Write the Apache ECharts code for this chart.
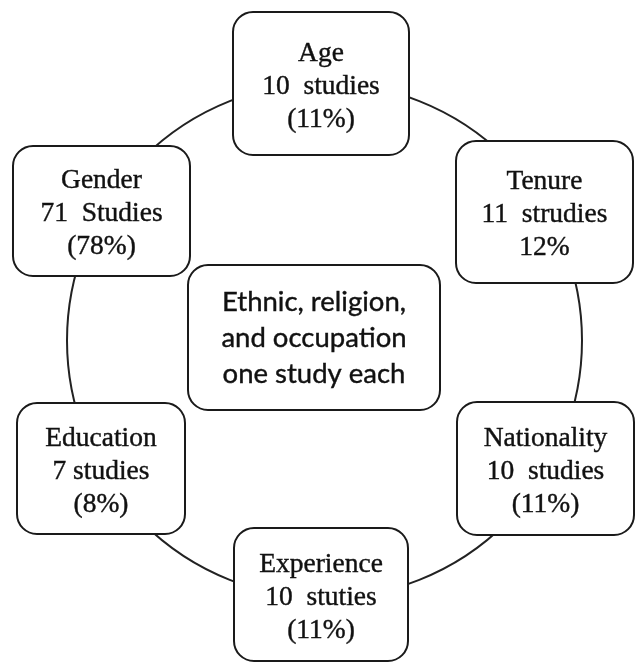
<!DOCTYPE html>
<html>
<head>
<meta charset="utf-8">
<title>Demographic factors</title>
<script src="https://cdn.jsdelivr.net/npm/echarts@6/dist/echarts.min.js"></script>
<style>
  html, body { margin: 0; padding: 0; background: #fff; }
  #chart { width: 635px; height: 662px; }
</style>
</head>
<body>
<div id="chart"></div>
<script>
  // data (typos kept as in the original)
  const factors = ['Age', 'Tenure', 'Nationality', 'Experience', 'Education', 'Gender'];
  const studyCounts = [10, 11, 10, 10, 7, 71];
  const studyWords = ['studies', 'strudies', 'studies', 'stuties', 'studies', 'Studies'];
  const countGaps = ['  ', '  ', '  ', '  ', ' ', '  '];
  const shares = ['(11%)', '12%', '(11%)', '(11%)', '(8%)', '(78%)'];
  const centreLines = ['Ethnic, religion,', 'and occupation', 'one study each'];

  // layout (pixel units on hidden axes)
  const boxLayout = [
    [233, 12, 409, 155],
    [456, 141, 633, 283],
    [457, 402, 634, 535],
    [234, 528, 408, 661],
    [17, 403, 185, 534],
    [13, 146, 190, 276]
  ];
  const centreBox = [188, 265, 440, 410];
  const ring = [324.5, 340.5, 257.5];

  const boxData = factors.map((name, i) => {
    return boxLayout[i].concat([name + '\n' + studyCounts[i] + countGaps[i] + studyWords[i] + '\n' + shares[i]]);
  });

  const chart = echarts.init(document.getElementById('chart'));

  function renderBox(params, api, font, lineH, dy) {
    const p0 = api.coord([api.value(0), api.value(1)]);
    const p1 = api.coord([api.value(2), api.value(3)]);
    const text = api.value(4);
    return {
      type: 'group',
      children: [
        {
          type: 'rect',
          shape: { x: p0[0], y: p0[1], width: p1[0] - p0[0], height: p1[1] - p0[1], r: 20 },
          style: { fill: '#fff', stroke: '#1a1a1a', lineWidth: 2 }
        },
        {
          type: 'text',
          x: (p0[0] + p1[0]) / 2,
          y: (p0[1] + p1[1]) / 2 + dy,
          style: {
            text: text,
            align: 'center',
            verticalAlign: 'middle',
            font: font,
            lineHeight: lineH,
            fill: '#111',
            stroke: '#111',
            lineWidth: 0.4
          }
        }
      ]
    };
  }

  const option = {
    animation: false,
    backgroundColor: '#fff',
    grid: { left: 0, right: 0, top: 0, bottom: 0 },
    xAxis: { type: 'value', min: 0, max: 635, show: false },
    yAxis: { type: 'value', min: 0, max: 662, inverse: true, show: false },
    series: [
      {
        type: 'custom',
        clip: false,
        z: 1,
        data: [ring],
        renderItem: (params, api) => {
          const c = api.coord([api.value(0), api.value(1)]);
          const r = api.size([api.value(2), 0])[0];
          return {
            type: 'circle',
            shape: { cx: c[0], cy: c[1], r: r },
            style: { fill: 'none', stroke: '#222', lineWidth: 2 }
          };
        }
      },
      {
        type: 'custom',
        clip: false,
        z: 2,
        data: boxData,
        renderItem: (params, api) => renderBox(params, api, '27.5px "Liberation Serif"', 33, 3)
      },
      {
        type: 'custom',
        clip: false,
        z: 2,
        data: [centreBox.concat([centreLines.join('\n')])],
        renderItem: (params, api) => renderBox(params, api, '27.5px Lato', 36, 1)
      }
    ]
  };
  chart.setOption(option);
</script>
</body>
</html>
